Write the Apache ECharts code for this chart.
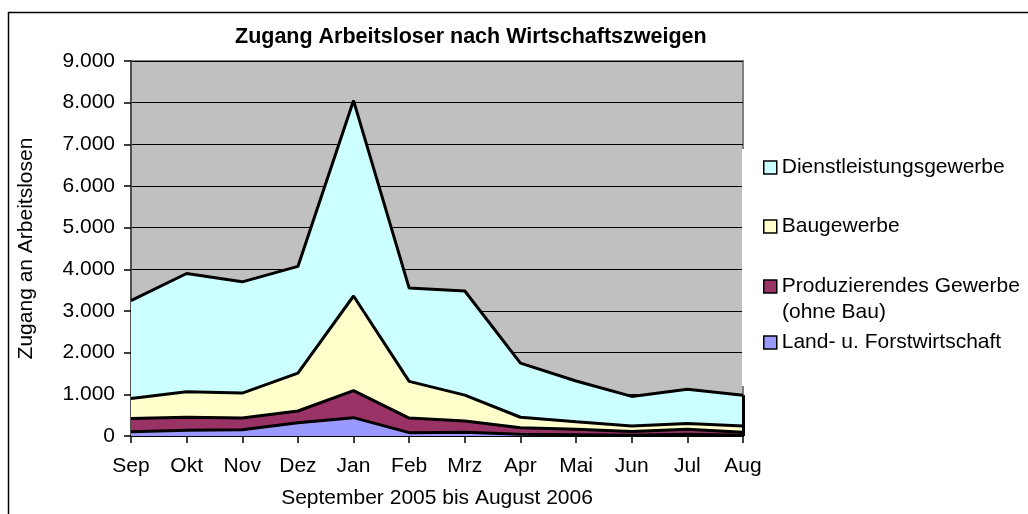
<!DOCTYPE html>
<html>
<head>
<meta charset="utf-8">
<script src="https://cdn.jsdelivr.net/npm/echarts@6/dist/echarts.min.js"></script>
<style>
    html, body { margin: 0; padding: 0; background: #fff; }
    #chart { width: 1028px; height: 514px; }
</style>
</head>
<body>
<div id="chart"></div>
<script>

const months = ['Sep', 'Okt', 'Nov', 'Dez', 'Jan', 'Feb', 'Mrz', 'Apr', 'Mai', 'Jun', 'Jul', 'Aug'];

// Werte je Wirtschaftszweig (gestapelt)
const landForst = [100, 140, 150, 320, 440, 80, 90, 40, 30, 20, 40, 20];
const produzierend = [320, 310, 280, 280, 650, 350, 270, 160, 130, 90, 120, 70];
const baugewerbe = [480, 610, 600, 910, 2270, 880, 620, 250, 180, 130, 140, 150];
const dienstleistung = [2350, 2840, 2670, 2560, 4690, 2240, 2500, 1300, 980, 710, 820, 740];

const yTicks = [0, 1000, 2000, 3000, 4000, 5000, 6000, 7000, 8000, 9000];

const font = 'Arial, "Liberation Sans", sans-serif';

const formatDe = (v) => String(v).replace(/\B(?=(\d{3})+(?!\d))/g, '.');

// Summe im letzten Monat, fuer die senkrechte Abschlusskante
const last = months.length - 1;
const lastTotal = landForst[last] + produzierend[last] + baugewerbe[last] + dienstleistung[last];

const area = (name, data, color) => {
    return {
        name: name,
        type: 'line',
        stack: 'gesamt',
        data: data,
        symbol: 'none',
        lineStyle: { color: '#000', width: 3 },
        areaStyle: { color: color, opacity: 1 },
        itemStyle: { color: color },
        emphasis: { disabled: true },
    };
};

const legendItem = (name, color, top) => {
    return {
        orient: 'vertical',
        left: 763,
        top: top,
        padding: 0,
        z: 20,
        icon: 'rect',
        itemWidth: 13,
        itemHeight: 13,
        selectedMode: false,
        textStyle: { fontFamily: font, fontSize: 21, color: '#000' },
        data: [{
            name: name,
            itemStyle: { color: color, borderColor: '#000', borderWidth: 1.5 },
        }],
    };
};

const topSeries = area('Dienstleistungsgewerbe', dienstleistung, '#CCFFFF');
topSeries.markLine = {
    silent: true,
    symbol: 'none',
    label: { show: false },
    lineStyle: { color: '#000', width: 3, type: 'solid' },
    data: [[
        { coord: [months[last], 0] },
        { coord: [months[last], lastTotal] },
    ]],
};

const chart = echarts.init(document.getElementById('chart'));

chart.setOption({
    animation: false,
    title: {
        text: 'Zugang Arbeitsloser nach Wirtschaftszweigen',
        left: 235,
        top: 26,
        padding: 0,
        textStyle: { fontFamily: font, fontSize: 21.5, fontWeight: 'bold', color: '#000' },
    },
    legend: [
        legendItem('Dienstleistungsgewerbe', '#CCFFFF', 157),
        legendItem('Baugewerbe', '#FFFFCC', 216),
        legendItem('Produzierendes Gewerbe', '#993366', 276),
        legendItem('Land- u. Forstwirtschaft', '#9999FF', 332),
    ],
    graphic: [
        {
            type: 'rect',
            z: 0,
            shape: { x: 8.5, y: 12.5, width: 1100, height: 600 },
            style: { fill: null, stroke: '#000', lineWidth: 1.5 },
            silent: true,
        },
        {
            type: 'rect',
            z: 10,
            shape: { x: 742, y: 149, width: 286, height: 237 },
            style: { fill: '#fff' },
            silent: true,
        },
        {
            type: 'text',
            z: 21,
            left: 782,
            top: 302,
            style: { text: '(ohne Bau)', font: '21px ' + font, fill: '#000' },
            silent: true,
        },
    ],
    grid: {
        left: 131,
        right: 285,
        top: 61,
        bottom: 72,
        show: true,
        backgroundColor: '#C0C0C0',
        borderColor: '#808080',
        borderWidth: 2,
    },
    xAxis: {
        type: 'category',
        data: months,
        boundaryGap: false,
        name: 'September 2005 bis August 2006',
        nameLocation: 'middle',
        nameGap: 52,
        nameTextStyle: { fontFamily: font, fontSize: 21, color: '#000' },
        axisLine: { lineStyle: { color: '#000', width: 2 } },
        axisTick: { length: 7, lineStyle: { color: '#000', width: 1.5 } },
        axisLabel: { margin: 20, fontFamily: font, fontSize: 21, color: '#000' },
        splitLine: { show: false },
    },
    yAxis: {
        type: 'value',
        min: yTicks[0],
        max: yTicks[yTicks.length - 1],
        interval: 1000,
        name: 'Zugang an Arbeitslosen',
        nameLocation: 'middle',
        nameGap: 94,
        nameTextStyle: { fontFamily: font, fontSize: 21, color: '#000' },
        axisLine: { show: true, lineStyle: { color: '#505050', width: 2 } },
        axisTick: { show: true, length: 7, lineStyle: { color: '#000', width: 1.5 } },
        axisLabel: {
            margin: 16,
            fontFamily: font,
            fontSize: 21,
            color: '#000',
            formatter: formatDe,
        },
        splitLine: { lineStyle: { color: '#000', width: 1 } },
    },
    series: [
        area('Land- u. Forstwirtschaft', landForst, '#9999FF'),
        area('Produzierendes Gewerbe', produzierend, '#993366'),
        area('Baugewerbe', baugewerbe, '#FFFFCC'),
        topSeries,
    ],
});

</script>
</body>
</html>
